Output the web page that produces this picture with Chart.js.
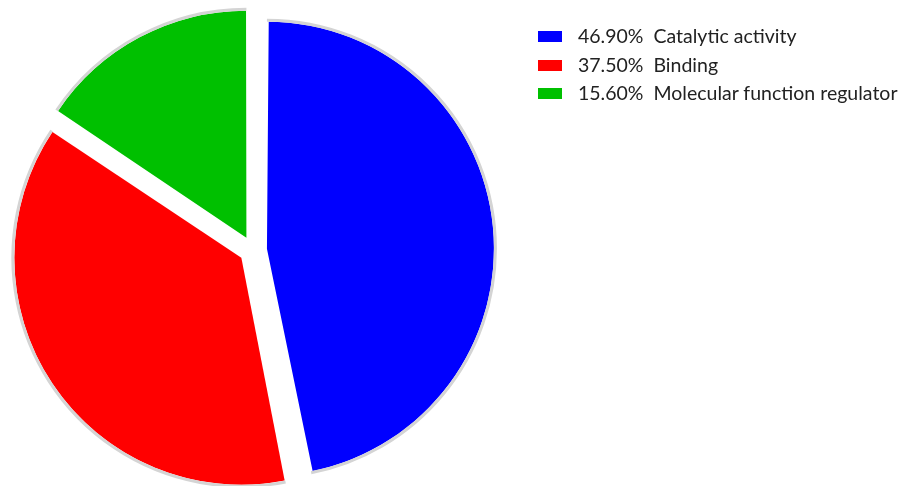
<!DOCTYPE html>
<html>
<head>
<meta charset="utf-8">
<script src="https://cdn.jsdelivr.net/npm/chart.js@4/dist/chart.umd.min.js"></script>
<style>
  html, body { margin: 0; padding: 0; background: #fff; }
  #wrap { position: relative; width: 912px; height: 486px; }
  #legend { position: absolute; left: 538px; top: 24px; font-family: Lato, "Open Sans", sans-serif; font-size: 19.5px; color: #222; }
  .row { position: relative; height: 28.5px; line-height: 24px; white-space: pre; }
  .sw { position: absolute; left: 0; top: 7px; width: 24px; height: 11px; }
  .tx { position: absolute; left: 40px; top: 0; }
</style>
</head>
<body>
<div id="wrap">
  <canvas id="c" width="912" height="486"></canvas>
  <div id="legend"></div>
</div>
<script>
// Molecular function breakdown (percent)
const categories = ['Catalytic activity', 'Binding', 'Molecular function regulator'];
const percents = [46.90, 37.50, 15.60];
const colors = ['#0000ff', '#ff0000', '#00c000'];

const EXPLODE = 14;        // gap each slice is pushed out from the centre, px
const OFFSET = EXPLODE * 4; // arc element translates by offset / 4
const RADIUS = 227;

// Keep every exploded slice at the same outer radius
const evenRadius = {
  id: 'evenRadius',
  afterDatasetUpdate(chart, args) {
    const meta = args.meta;
    meta.data.forEach(el => {
      const circ = el.endAngle - el.startAngle;
      const fix = 1 - Math.sin(Math.min(Math.PI, circ));
      el.outerRadius = RADIUS - (OFFSET / 4) * fix;
    });
  }
};

// Light grey rim along the outer edge of each slice
const rim = {
  id: 'rim',
  afterDatasetsDraw(chart) {
    const ctx = chart.ctx;
    const meta = chart.getDatasetMeta(0);
    meta.data.forEach(el => {
      const mid = (el.startAngle + el.endAngle) / 2;
      const dx = Math.cos(mid) * OFFSET / 4;
      const dy = Math.sin(mid) * OFFSET / 4;
      ctx.save();
      ctx.strokeStyle = '#d4d4d4';
      ctx.lineWidth = 3;
      ctx.beginPath();
      ctx.arc(el.x + dx, el.y + dy, RADIUS + 1.5, el.startAngle, el.endAngle);
      ctx.stroke();
      ctx.restore();
    });
  }
};

new Chart(document.getElementById('c'), {
  type: 'pie',
  data: {
    labels: categories,
    datasets: [{
      data: percents,
      backgroundColor: colors,
      borderWidth: 0,
      offset: OFFSET,
      radius: RADIUS
    }]
  },
  options: {
    responsive: false,
    animation: false,
    layout: { padding: { left: 0, right: 406, top: 14, bottom: 0 } },
    plugins: { legend: { display: false }, tooltip: { enabled: false } }
  },
  plugins: [evenRadius, rim]
});

// Legend
const legend = document.getElementById('legend');
categories.forEach((name, i) => {
  const row = document.createElement('div');
  row.className = 'row';
  const sw = document.createElement('div');
  sw.className = 'sw';
  sw.style.background = colors[i];
  const tx = document.createElement('div');
  tx.className = 'tx';
  tx.textContent = percents[i].toFixed(2) + '%  ' + name;
  row.appendChild(sw);
  row.appendChild(tx);
  legend.appendChild(row);
});
</script>
</body>
</html>
